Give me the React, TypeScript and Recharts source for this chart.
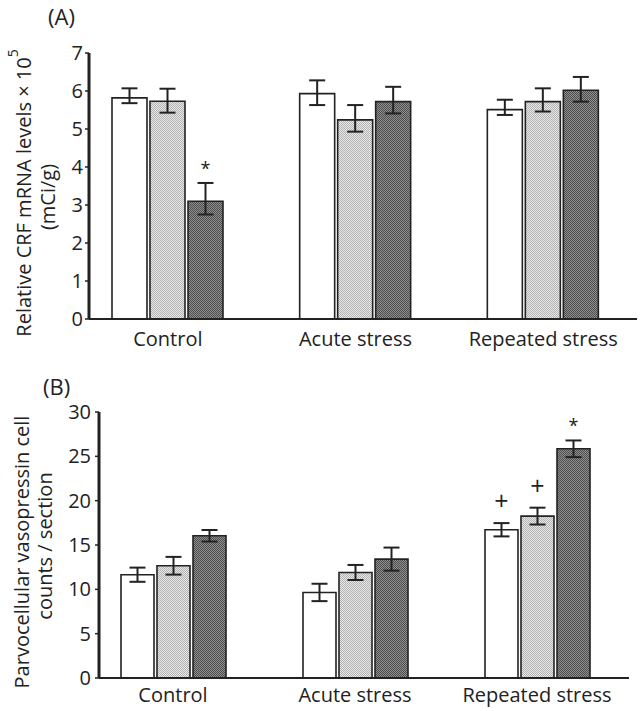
import React from "react";
import { BarChart, Bar, XAxis, YAxis, ErrorBar, LabelList } from "recharts";

const categories = ["Control", "Acute stress", "Repeated stress"];

// (A) CRF mRNA, three bars per group
const crfMean1 = [5.82, 5.93, 5.51];
const crfMean2 = [5.73, 5.24, 5.72];
const crfMean3 = [3.1, 5.72, 6.02];
const crfErrLow1 = [0.14, 0.3, 0.14];
const crfErrHigh1 = [0.25, 0.35, 0.26];
const crfErrLow2 = [0.3, 0.31, 0.26];
const crfErrHigh2 = [0.33, 0.39, 0.35];
const crfErrLow3 = [0.35, 0.31, 0.3];
const crfErrHigh3 = [0.48, 0.39, 0.35];
const crfMarks3 = ["*", "", ""];
const crfTicks = [0, 1, 2, 3, 4, 5, 6, 7];

// (B) parvocellular vasopressin cell counts
const avpMean1 = [11.65, 9.65, 16.72];
const avpMean2 = [12.66, 11.9, 18.26];
const avpMean3 = [16.04, 13.41, 25.85];
const avpErr1 = [0.8, 0.98, 0.75];
const avpErr2 = [1.0, 0.85, 0.95];
const avpErr3 = [0.65, 1.3, 0.94];
const avpMarks1 = ["", "", "+"];
const avpMarks2 = ["", "", "+"];
const avpMarks3 = ["", "", "*"];
const avpTicks = [0, 5, 10, 15, 20, 25, 30];

const FONT = "'Open Sans', 'DejaVu Sans', sans-serif";
const INK = "#222";

const crfRows = categories.map((name, i) => ({
  name,
  m1: crfMean1[i],
  m2: crfMean2[i],
  m3: crfMean3[i],
  e1: [crfErrLow1[i], crfErrHigh1[i]],
  e2: [crfErrLow2[i], crfErrHigh2[i]],
  e3: [crfErrLow3[i], crfErrHigh3[i]],
  k1: "",
  k2: "",
  k3: crfMarks3[i],
}));

const avpRows = categories.map((name, i) => ({
  name,
  m1: avpMean1[i],
  m2: avpMean2[i],
  m3: avpMean3[i],
  e1: avpErr1[i],
  e2: avpErr2[i],
  e3: avpErr3[i],
  k1: avpMarks1[i],
  k2: avpMarks2[i],
  k3: avpMarks3[i],
}));

// significance mark drawn just above the error bar of its bar
const markAbove = (rows: any[], n: number) => (props: any) => {
  const { index, value } = props;
  if (!value) return null;
  const vb = props.viewBox || props;
  const row = rows[index];
  const mean = row["m" + n];
  const err = row["e" + n];
  const up = Array.isArray(err) ? err[1] : err;
  const pxPerUnit = vb.height / mean;
  const errTop = vb.y - up * pxPerUnit;
  const plus = value === "+";
  return (
    <text
      x={vb.x + vb.width / 2}
      y={errTop - (plus ? 13 : 8)}
      textAnchor="middle"
      fontFamily={FONT}
      fontSize={plus ? 25 : 18}
      fill={INK}
    >
      {value}
    </text>
  );
};

const fills = ["#ffffff", "url(#dotLight)", "url(#dotDark)"];

function Series(rows: any[], barSize: number) {
  return [1, 2, 3].map((n) => (
    <Bar
      key={n}
      dataKey={"m" + n}
      fill={fills[n - 1]}
      stroke={INK}
      strokeWidth={1.6}
      barSize={barSize}
      isAnimationActive={false}
    >
      <ErrorBar dataKey={"e" + n} width={8} stroke={INK} strokeWidth={2} direction="y" />
      <LabelList dataKey={"k" + n} content={markAbove(rows, n)} />
    </Bar>
  ));
}

const crfLabel = () => (
  <g fontFamily={FONT} fontSize={20} fill={INK}>
    <text transform="translate(31,193) rotate(-90)" textAnchor="middle">
      Relative CRF mRNA levels × 10
      <tspan dy={-13} fontSize={14}>5</tspan>
    </text>
    <text transform="translate(55,197) rotate(-90)" textAnchor="middle">
      (mCi/g)
    </text>
  </g>
);

const avpLabel = () => (
  <g fontFamily={FONT} fontSize={20} fill={INK}>
    <text transform="translate(29,192) rotate(-90)" textAnchor="middle">
      Parvocellular vasopressin cell
    </text>
    <text transform="translate(52,186) rotate(-90)" textAnchor="middle">
      counts / section
    </text>
  </g>
);

const panelTag: React.CSSProperties = {
  position: "absolute",
  fontFamily: FONT,
  fontSize: 22,
  lineHeight: "22px",
  color: INK,
};

export default function App() {
  return (
    <div style={{ position: "absolute", left: 0, top: 0, width: 642, height: 711, background: "#fff" }}>
      <svg width={0} height={0} style={{ position: "absolute" }}>
        <defs>
          <pattern id="dotLight" width={2} height={2} patternUnits="userSpaceOnUse">
            <rect width={2} height={2} fill="#e8e8e8" />
            <rect width={1} height={1} fill="#b2b2b2" />
            <rect x={1} y={1} width={1} height={1} fill="#b2b2b2" />
          </pattern>
          <pattern id="dotDark" width={2} height={2} patternUnits="userSpaceOnUse">
            <rect width={2} height={2} fill="#8e8e8e" />
            <rect width={1} height={1} fill="#4e4e4e" />
            <rect x={1} y={1} width={1} height={1} fill="#4e4e4e" />
          </pattern>
        </defs>
      </svg>

      <div style={{ ...panelTag, left: 48, top: 5 }}>(A)</div>
      <div style={{ position: "absolute", left: 0, top: 0 }}>
        <BarChart width={642} height={360} data={crfRows} barGap={3} margin={{ top: 53, right: 5, left: 0, bottom: 0 }}>
          <XAxis
            dataKey="name"
            height={41}
            padding={{ left: -15, right: 0 }}
            axisLine={{ stroke: INK, strokeWidth: 2 }}
            tickLine={false}
            tickSize={0}
            tickMargin={13}
            tick={{ fontFamily: FONT, fontSize: 20, fill: INK }}
          />
          <YAxis
            width={89}
            domain={[0, 7]}
            ticks={crfTicks}
            interval={0}
            axisLine={{ stroke: INK, strokeWidth: 3 }}
            tickLine={{ stroke: INK, strokeWidth: 1.5 }}
            tickSize={4}
            tickMargin={2}
            tick={{ fontFamily: FONT, fontSize: 20, fill: INK }}
            label={{ content: crfLabel }}
          />
          {Series(crfRows, 35)}
        </BarChart>
      </div>

      <div style={{ ...panelTag, left: 43, top: 375 }}>(B)</div>
      <div style={{ position: "absolute", left: 0, top: 360 }}>
        <BarChart width={642} height={351} data={avpRows} barGap={3} margin={{ top: 52, right: 13, left: 0, bottom: 0 }}>
          <XAxis
            dataKey="name"
            height={33}
            padding={{ left: -17, right: 1 }}
            axisLine={{ stroke: INK, strokeWidth: 2 }}
            tickLine={false}
            tickSize={0}
            tickMargin={10}
            tick={{ fontFamily: FONT, fontSize: 20, fill: INK }}
          />
          <YAxis
            width={99}
            domain={[0, 30]}
            ticks={avpTicks}
            interval={0}
            axisLine={{ stroke: INK, strokeWidth: 3 }}
            tickLine={{ stroke: INK, strokeWidth: 1.5 }}
            tickSize={4}
            tickMargin={4}
            tick={{ fontFamily: FONT, fontSize: 20, fill: INK }}
            label={{ content: avpLabel }}
          />
          {Series(avpRows, 33)}
        </BarChart>
      </div>
    </div>
  );
}
